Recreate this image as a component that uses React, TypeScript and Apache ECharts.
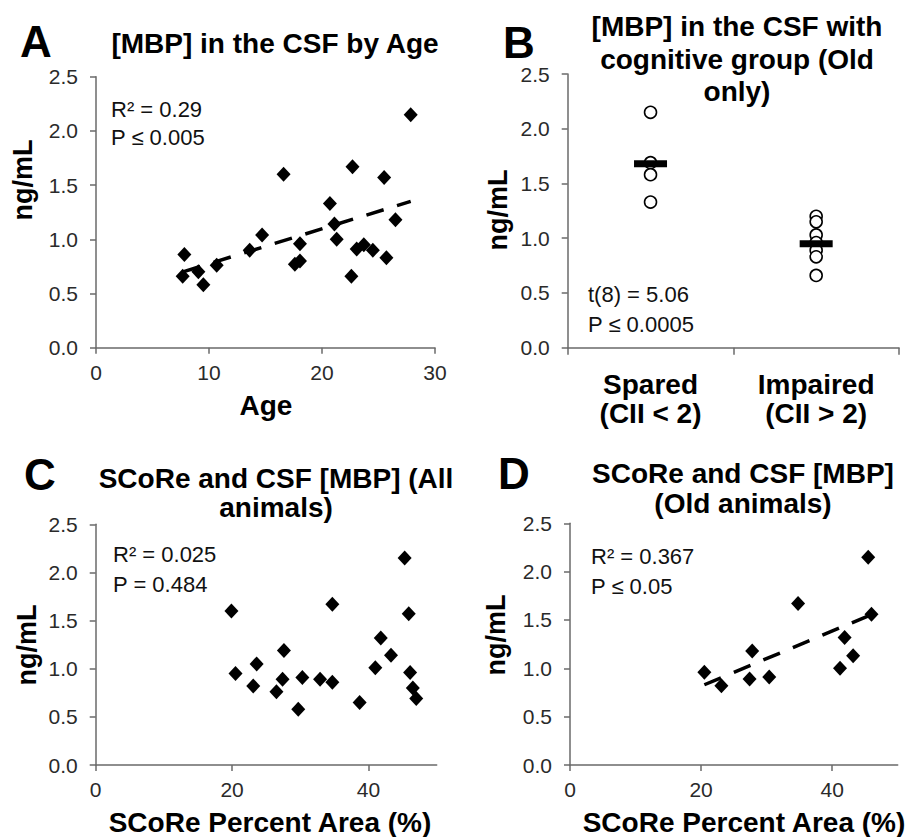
import React, { useEffect, useRef } from "react";
import * as echarts from "echarts";

// Panel A: age vs [MBP]
const ageA = [7.67, 7.82, 9.06, 9.5, 10.68, 13.6, 14.7, 16.6, 17.6, 18.05, 18.05, 20.7, 21.1, 21.3, 22.6, 22.7, 23.07, 23.7, 24.5, 25.5, 25.7, 26.5, 27.85];
const mbpA = [0.66, 0.86, 0.7, 0.58, 0.76, 0.9, 1.04, 1.6, 0.77, 0.8, 0.96, 1.33, 1.14, 1.0, 0.66, 1.67, 0.91, 0.95, 0.9, 1.57, 0.83, 1.18, 2.15];
const trendA = [[7.7, 0.7], [27.85, 1.35]];

// Panel B: cognitive groups (old only)
const categoriesB = ["Spared\n(CII < 2)", "Impaired\n(CII > 2)"];
const sparedB = [2.15, 1.69, 1.58, 1.33];
const impairedB = [1.2, 1.15, 1.03, 0.96, 0.89, 0.83, 0.66];
const meansB = [1.68, 0.95];

// Panel C: SCoRe vs [MBP], all animals
const scoreC = [19.9, 20.5, 23.1, 23.6, 26.5, 27.4, 27.6, 29.7, 30.3, 32.9, 34.7, 34.7, 38.7, 41.0, 41.8, 43.3, 45.3, 45.9, 46.1, 46.5, 47.0];
const mbpC = [1.6, 0.95, 0.82, 1.05, 0.76, 0.89, 1.19, 0.58, 0.91, 0.89, 1.67, 0.86, 0.65, 1.01, 1.32, 1.14, 2.15, 1.57, 0.96, 0.8, 0.69];

// Panel D: SCoRe vs [MBP], old animals
const scoreD = [20.5, 23.1, 27.4, 27.8, 30.4, 34.8, 41.2, 41.9, 43.2, 45.5, 46.0];
const mbpD = [0.96, 0.82, 0.89, 1.18, 0.91, 1.67, 1.0, 1.32, 1.13, 2.15, 1.56];
const trendD = [[20.5, 0.83], [46.5, 1.57]];

// Axis ticks
const yTicks = [0, 0.5, 1, 1.5, 2, 2.5];
const xTicksA = [0, 10, 20, 30];
const xTicksCD = [0, 20, 40];

const FONT = "'Liberation Sans', Arial, Helvetica, sans-serif";
const AXIS_COLOR = "#6a6a6a";
const TICK_TEXT = "#2a2a2a";

function zip(xs: number[], ys: number[]) {
  return xs.map((x, i) => [x, ys[i]]);
}

function yAxis(gridIndex: number) {
  return {
    type: "value",
    gridIndex,
    min: yTicks[0],
    max: yTicks[yTicks.length - 1],
    interval: 0.5,
    axisLine: { show: true, lineStyle: { color: AXIS_COLOR, width: 1.5 } },
    axisTick: { show: true, length: 6, lineStyle: { color: AXIS_COLOR, width: 1.5 } },
    axisLabel: {
      fontSize: 21,
      color: TICK_TEXT,
      fontFamily: FONT,
      margin: 18,
      formatter: (v: number) => v.toFixed(1),
    },
    splitLine: { show: false },
  };
}

function valueX(gridIndex: number, ticks: number[], max: number, interval: number) {
  return {
    type: "value",
    gridIndex,
    min: 0,
    max,
    interval,
    axisLine: { show: true, onZero: false, lineStyle: { color: AXIS_COLOR, width: 1.5 } },
    axisTick: { show: true, length: 6, customValues: ticks, lineStyle: { color: AXIS_COLOR, width: 1.5 } },
    axisLabel: {
      fontSize: 21,
      color: TICK_TEXT,
      fontFamily: FONT,
      margin: 14,
      customValues: ticks,
    },
    splitLine: { show: false },
  };
}

function text(t: string, x: number, y: number, size: number, bold: boolean, extra: any = {}) {
  return {
    type: "text",
    x,
    y,
    rotation: extra.rotation || 0,
    z: 10,
    style: {
      text: t,
      fill: extra.fill || "#000",
      fontSize: size,
      fontWeight: bold ? "bold" : "normal",
      fontFamily: FONT,
      align: extra.align || "center",
      verticalAlign: "middle",
      lineHeight: extra.lineHeight,
    },
  };
}

export default function App() {
  const ref = useRef<HTMLDivElement>(null);

  useEffect(() => {
    if (!ref.current) return;
    const chart = echarts.init(ref.current, undefined, { renderer: "svg" });

    const diamond = { symbol: "diamond", symbolSize: [14, 15], itemStyle: { color: "#000", opacity: 1 } };
    const dashed = {
      type: "line",
      symbol: "none",
      lineStyle: { color: "#000", width: 3.5, type: [18, 14] },
      z: 3,
    };
    const openCircle = {
      symbol: "circle",
      symbolSize: 12,
      itemStyle: { color: "#fff", borderColor: "#000", borderWidth: 1.6, opacity: 1 },
    };

    const option: any = {
      animation: false,
      backgroundColor: "#fff",
      grid: [
        { left: 96, top: 76.7, width: 339, height: 271, containLabel: false, outerBoundsMode: "none" },
        { left: 567.7, top: 74, width: 331.3, height: 273.7, containLabel: false, outerBoundsMode: "none" },
        { left: 95.7, top: 524.3, width: 341, height: 240.7, containLabel: false, outerBoundsMode: "none" },
        { left: 570, top: 523.3, width: 327.7, height: 241.7, containLabel: false, outerBoundsMode: "none" },
      ],
      xAxis: [
        valueX(0, xTicksA, 30, 10),
        {
          type: "category",
          gridIndex: 1,
          data: categoriesB,
          boundaryGap: true,
          axisLine: { show: true, lineStyle: { color: AXIS_COLOR, width: 1.5 } },
          axisTick: { show: true, length: 7, alignWithLabel: false, lineStyle: { color: AXIS_COLOR, width: 1.5 } },
          axisLabel: {
            interval: 0,
            fontSize: 28,
            fontWeight: "bold",
            lineHeight: 29,
            color: "#000",
            fontFamily: FONT,
            margin: 22,
          },
          splitLine: { show: false },
        },
        valueX(2, xTicksCD, 50, 20),
        valueX(3, xTicksCD, 50, 20),
      ],
      yAxis: [yAxis(0), yAxis(1), yAxis(2), yAxis(3)],
      series: [
        { type: "scatter", xAxisIndex: 0, yAxisIndex: 0, data: zip(ageA, mbpA), ...diamond },
        { ...dashed, xAxisIndex: 0, yAxisIndex: 0, data: trendA },
        { type: "scatter", xAxisIndex: 1, yAxisIndex: 1, data: sparedB.map((v) => [0, v]), ...openCircle },
        { type: "scatter", xAxisIndex: 1, yAxisIndex: 1, data: impairedB.map((v) => [1, v]), ...openCircle },
        {
          type: "scatter",
          xAxisIndex: 1,
          yAxisIndex: 1,
          data: meansB.map((v, i) => [i, v]),
          symbol: "rect",
          symbolSize: [33, 7],
          itemStyle: { color: "#000", opacity: 1 },
          z: 4,
        },
        { type: "scatter", xAxisIndex: 2, yAxisIndex: 2, data: zip(scoreC, mbpC), ...diamond },
        { type: "scatter", xAxisIndex: 3, yAxisIndex: 3, data: zip(scoreD, mbpD), ...diamond },
        { ...dashed, xAxisIndex: 3, yAxisIndex: 3, data: trendD },
      ],
      graphic: [
        // panel letters
        text("A", 36, 41, 44, true),
        text("B", 519, 42, 44, true),
        text("C", 40, 474, 44, true),
        text("D", 514, 473, 44, true),
        // titles
        text("[MBP] in the CSF by Age", 275, 43, 28, true),
        text("[MBP] in the CSF with\ncognitive group (Old\nonly)", 737, 59, 28, true, { lineHeight: 32.5 }),
        text("SCoRe and CSF [MBP] (All\nanimals)", 276, 492.5, 28, true, { lineHeight: 29 }),
        text("SCoRe and CSF [MBP]\n(Old animals)", 743, 488, 28, true, { lineHeight: 30 }),
        // y axis names
        text("ng/mL", 23, 180, 27, true, { rotation: Math.PI / 2 }),
        text("ng/mL", 498, 210, 27, true, { rotation: Math.PI / 2 }),
        text("ng/mL", 27, 645, 27, true, { rotation: Math.PI / 2 }),
        text("ng/mL", 496, 635, 27, true, { rotation: Math.PI / 2 }),
        // x axis names
        text("Age", 266, 405, 28, true),
        text("SCoRe Percent Area (%)", 270, 822, 28, true),
        text("SCoRe Percent Area (%)", 744, 822, 28, true),
        // statistics
        text("R² = 0.29", 111, 109, 22, false, { align: "left", fill: "#111" }),
        text("P ≤ 0.005", 111, 137.5, 22, false, { align: "left", fill: "#111" }),
        text("t(8) = 5.06", 588, 294, 22, false, { align: "left", fill: "#111" }),
        text("P ≤ 0.0005", 588, 324, 22, false, { align: "left", fill: "#111" }),
        text("R² = 0.025", 113, 554, 22, false, { align: "left", fill: "#111" }),
        text("P = 0.484", 113, 584, 22, false, { align: "left", fill: "#111" }),
        text("R² = 0.367", 591, 556, 22, false, { align: "left", fill: "#111" }),
        text("P ≤ 0.05", 591, 586, 22, false, { align: "left", fill: "#111" }),
      ],
    };

    chart.setOption(option);
    return () => chart.dispose();
  }, []);

  return (
    <div
      ref={ref}
      style={{ position: "absolute", left: 0, top: 0, width: 913, height: 837, background: "#fff" }}
    />
  );
}
